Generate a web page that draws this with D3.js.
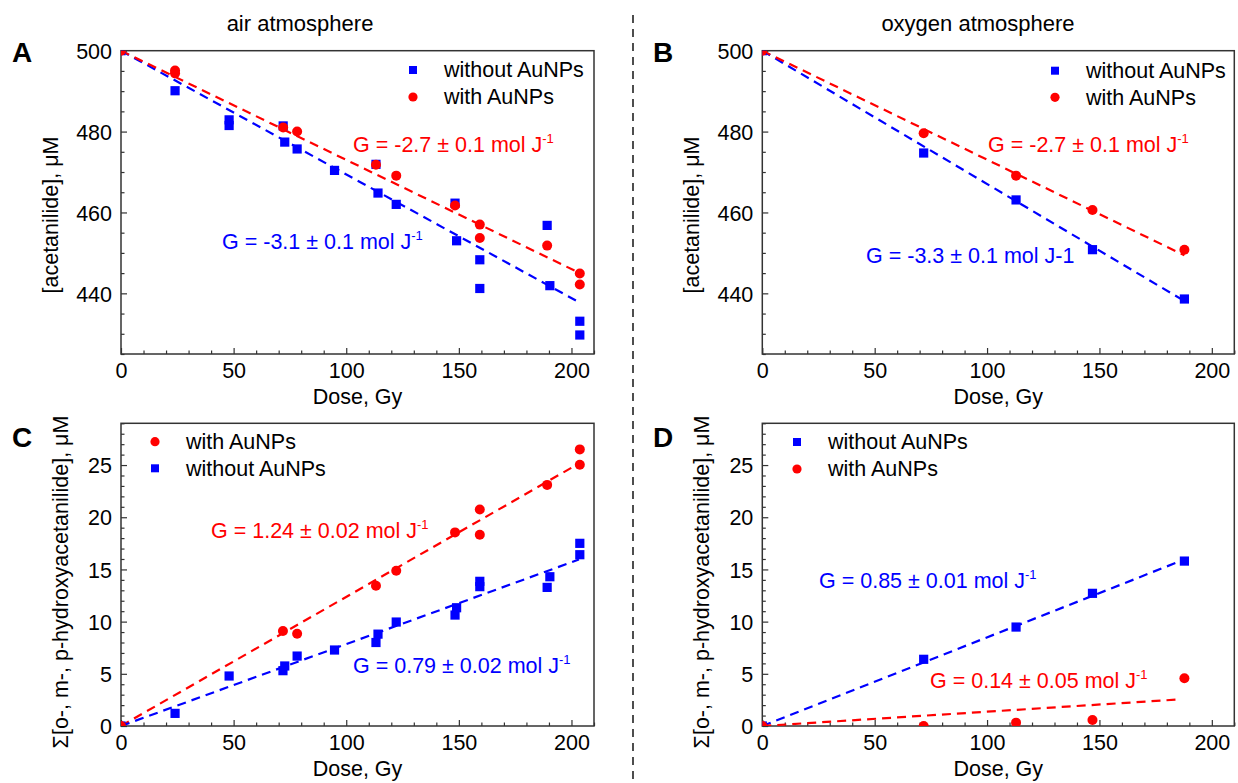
<!DOCTYPE html>
<html><head><meta charset="utf-8">
<script src="https://cdn.jsdelivr.net/npm/d3@7"></script>
<style>
body{margin:0;background:#fff;}
svg text{font-family:"Liberation Sans",Arial,sans-serif;}
</style></head>
<body><svg id="c" width="1238" height="783"></svg>
<script>
// ---------- data ----------
const xTicks = [0, 50, 100, 150, 200];
const yTicksTop = [440, 460, 480, 500];
const yTicksBottom = [0, 5, 10, 15, 20, 25];

// Panel A (air) [acetanilide]
const A_without = [[0,500],[24,490.1],[48,482.9],[48,481.5],[72,481.4],[72.7,477.4],[78.2,475.7],[94.8,470.4],[113.2,471.9],[114.1,464.8],[122.2,462],[148.3,462.3],[149,453],[159.3,448.3],[159.3,441.2],[189.2,456.8],[190.4,441.9],[203.7,433.1],[203.7,429.7]];
const A_with = [[0,500],[24,495.1],[24,494.4],[72,481],[78.2,480],[113.2,471.8],[122.2,469.1],[148.3,461.7],[159.3,457],[159.3,453.7],[189.2,451.8],[203.7,444.9],[203.7,442.2]];
const A_fit_without = [[0,500],[203,437.9]];
const A_fit_with = [[0,500],[203.7,445]];

// Panel B (oxygen) [acetanilide]
const B_without = [[0,500],[71.8,474.7],[112.9,463.1],[146.9,450.8],[187.8,438.6]];
const B_with = [[0,500],[71.8,479.6],[112.9,469.1],[146.9,460.6],[187.8,450.8]];
const B_fit_without = [[0,500],[187.8,438.1]];
const B_fit_with = [[0,500],[187.8,449.4]];

// Panel C (air) hydroxyacetanilides
const C_with = [[0,0],[71.9,9.1],[78.2,8.84],[113.2,13.44],[122.2,14.88],[148.3,18.55],[159.3,20.75],[159.3,18.33],[189.2,23.1],[203.7,26.5],[203.7,25.03]];
const C_without = [[0,0],[24,1.21],[48,4.79],[71.9,5.3],[72.7,5.75],[78.2,6.7],[94.8,7.28],[113.2,8.0],[114.1,8.8],[122.2,9.96],[148.3,10.63],[149,11.33],[159.3,13.35],[159.3,13.86],[189.2,13.28],[190.4,14.3],[203.7,16.41],[203.7,17.5]];
const C_fit_with = [[0,0],[203.7,25.2]];
const C_fit_without = [[0,0],[203.3,15.95]];

// Panel D (oxygen) hydroxyacetanilides
const D_without = [[0,0],[71.8,6.39],[112.9,9.48],[146.9,12.71],[187.8,15.8]];
const D_with = [[0,0],[71.8,0.0],[112.9,0.32],[146.9,0.57],[187.8,4.57]];
const D_fit_without = [[0,0],[187.8,15.95]];
const D_fit_with = [[0,0],[186,2.55]];

// ---------- drawing ----------
const BLUE = "#0000ff", RED = "#ff0000", AXIS = "#333";
const FS = 21.5;
const svg = d3.select("#c");

const panels = [
  {id:"A", L:121, R:594, T:50.7, B:354, ydom:[425,500], yt:yTicksTop, ymin:5,
   ylab:"[acetanilide], μM", ylx:50, yly:215, letter:[12,62],
   series:[{d:A_fit_without,c:BLUE,type:"fit"},{d:A_fit_with,c:RED,type:"fit"},
           {d:A_without,c:BLUE,type:"sq"},{d:A_with,c:RED,type:"ci"}],
   legend:[{c:BLUE,type:"sq",t:"without AuNPs",x:413,y:70},{c:RED,type:"ci",t:"with AuNPs",x:413,y:97}],
   ann:[{t:"G = -2.7 ± 0.1 mol J",sup:"-1",c:RED,x:353,y:152},{t:"G = -3.1 ± 0.1 mol J",sup:"-1",c:BLUE,x:222,y:249}]},
  {id:"B", L:762.3, R:1234.3, T:50.7, B:354, ydom:[425,500], yt:yTicksTop, ymin:5,
   ylab:"[acetanilide], μM", ylx:691, yly:215, letter:[653,62],
   series:[{d:B_fit_without,c:BLUE,type:"fit"},{d:B_fit_with,c:RED,type:"fit"},
           {d:B_without,c:BLUE,type:"sq"},{d:B_with,c:RED,type:"ci"}],
   legend:[{c:BLUE,type:"sq",t:"without AuNPs",x:1055,y:70.7},{c:RED,type:"ci",t:"with AuNPs",x:1055,y:97.3}],
   ann:[{t:"G = -2.7 ± 0.1 mol J",sup:"-1",c:RED,x:988,y:152},{t:"G = -3.3 ± 0.1 mol J-1",sup:"",c:BLUE,x:866,y:263}]},
  {id:"C", L:121, R:594, T:423.3, B:726, ydom:[0,29], yt:yTicksBottom, ymin:1,
   ylab:"Σ[o-, m-, p-hydroxyacetanilide], μM", ylx:60, yly:582, letter:[12,447],
   series:[{d:C_fit_with,c:RED,type:"fit"},{d:C_fit_without,c:BLUE,type:"fit"},
           {d:C_without,c:BLUE,type:"sq"},{d:C_with,c:RED,type:"ci"}],
   legend:[{c:RED,type:"ci",t:"with AuNPs",x:155,y:441.7},{c:BLUE,type:"sq",t:"without AuNPs",x:155,y:468.3}],
   ann:[{t:"G = 1.24 ± 0.02 mol J",sup:"-1",c:RED,x:211,y:538},{t:"G = 0.79 ± 0.02 mol J",sup:"-1",c:BLUE,x:353,y:673}]},
  {id:"D", L:762.3, R:1234.3, T:423.3, B:726, ydom:[0,29], yt:yTicksBottom, ymin:1,
   ylab:"Σ[o-, m-, p-hydroxyacetanilide], μM", ylx:701, yly:582, letter:[653,447],
   series:[{d:D_fit_without,c:BLUE,type:"fit"},{d:D_fit_with,c:RED,type:"fit"},
           {d:D_without,c:BLUE,type:"sq"},{d:D_with,c:RED,type:"ci"}],
   legend:[{c:BLUE,type:"sq",t:"without AuNPs",x:797,y:442},{c:RED,type:"ci",t:"with AuNPs",x:797,y:469}],
   ann:[{t:"G = 0.85 ± 0.01 mol J",sup:"-1",c:BLUE,x:819,y:588},{t:"G = 0.14 ± 0.05 mol J",sup:"-1",c:RED,x:930,y:688}]}
];

function marker(g, type, color, x, y){
  if(type==="sq"){
    g.append("rect").attr("x",x-4.6).attr("y",y-4.6).attr("width",9.2).attr("height",9.2).attr("fill",color);
  } else {
    g.append("circle").attr("cx",x).attr("cy",y).attr("r",5).attr("fill",color);
  }
}

panels.forEach((p,i)=>{
  const x = d3.scaleLinear().domain([0,210]).range([p.L,p.R]);
  const y = d3.scaleLinear().domain(p.ydom).range([p.B,p.T]);
  const g = svg.append("g");
  const clipId = "clip"+p.id;
  svg.append("clipPath").attr("id",clipId).append("rect")
    .attr("x",p.L).attr("y",p.T).attr("width",p.R-p.L).attr("height",p.B-p.T);

  // minor ticks
  const xMinor = d3.range(0,211,10).filter(v=>v%50!==0);
  const yMinor = d3.range(p.ydom[0], p.ydom[1]+0.001, p.ymin).filter(v=>!p.yt.includes(v));
  g.append("g").attr("transform",`translate(0,${p.B})`)
    .call(d3.axisBottom(x).tickValues(xMinor).tickSize(-3.5).tickFormat(""))
    .call(s=>s.select(".domain").remove()).selectAll("line").attr("stroke",AXIS).attr("stroke-width",1.2);
  g.append("g").attr("transform",`translate(${p.L},0)`)
    .call(d3.axisLeft(y).tickValues(yMinor).tickSize(-3.5).tickFormat(""))
    .call(s=>s.select(".domain").remove()).selectAll("line").attr("stroke",AXIS).attr("stroke-width",1.2);
  // major ticks + labels
  const xa = g.append("g").attr("transform",`translate(0,${p.B})`)
    .call(d3.axisBottom(x).tickValues(xTicks).tickSize(-6).tickPadding(9).tickFormat(d3.format("d")));
  xa.select(".domain").remove();
  xa.selectAll("line").attr("stroke",AXIS).attr("stroke-width",1.2);
  xa.selectAll("text").attr("font-size",FS).attr("fill","#000")
    .style("font-family","'Liberation Sans',Arial,sans-serif");
  const ya = g.append("g").attr("transform",`translate(${p.L},0)`)
    .call(d3.axisLeft(y).tickValues(p.yt).tickSize(-6).tickPadding(9).tickFormat(d3.format("d")));
  ya.select(".domain").remove();
  ya.selectAll("line").attr("stroke",AXIS).attr("stroke-width",1.2);
  ya.selectAll("text").attr("font-size",FS).attr("fill","#000").attr("dy","0.36em")
    .style("font-family","'Liberation Sans',Arial,sans-serif");

  // frame
  g.append("rect").attr("x",p.L).attr("y",p.T).attr("width",p.R-p.L).attr("height",p.B-p.T)
    .attr("fill","none").attr("stroke",AXIS).attr("stroke-width",1.5);

  // series
  const plot = g.append("g").attr("clip-path",`url(#${clipId})`);
  const line = d3.line().x(d=>x(d[0])).y(d=>y(d[1]));
  p.series.forEach(s=>{
    if(s.type==="fit"){
      plot.append("path").attr("d",line(s.d)).attr("fill","none").attr("stroke",s.c)
        .attr("stroke-width",2.2).attr("stroke-dasharray","9,6");
    }
  });
  p.series.forEach(s=>{
    if(s.type!=="fit"){
      s.d.forEach(d=>marker(plot,s.type,s.c,x(d[0]),y(d[1])));
    }
  });

  // legend
  p.legend.forEach(l=>{
    if(l.type==="sq") g.append("rect").attr("x",l.x-4).attr("y",l.y-4).attr("width",8).attr("height",8).attr("fill",l.c);
    else g.append("circle").attr("cx",l.x).attr("cy",l.y).attr("r",4.6).attr("fill",l.c);
    g.append("text").attr("x",l.x+31).attr("y",l.y+7.3).attr("font-size",FS).attr("fill","#000").text(l.t);
  });

  // annotations
  p.ann.forEach(a=>{
    const t = g.append("text").attr("x",a.x).attr("y",a.y).attr("font-size",FS).attr("fill",a.c);
    t.append("tspan").text(a.t);
    if(a.sup) t.append("tspan").attr("font-size",13).attr("dy",-9).text(a.sup);
  });

  // y label
  g.append("text").attr("transform",`translate(${p.ylx},${p.yly}) rotate(-90)`)
    .attr("text-anchor","middle").attr("dy","0.35em").attr("font-size",FS).attr("fill","#000").text(p.ylab);
  // x label
  g.append("text").attr("x",(p.L+p.R)/2).attr("y",p.B+50).attr("text-anchor","middle")
    .attr("font-size",FS).attr("fill","#000").text("Dose, Gy");
  // letter
  g.append("text").attr("x",p.letter[0]).attr("y",p.letter[1]).attr("font-size",28)
    .attr("font-weight","bold").attr("fill","#000").text(p.id);
});

// titles
svg.append("text").attr("x",300).attr("y",31).attr("text-anchor","middle").attr("font-size",22).text("air atmosphere");
svg.append("text").attr("x",978).attr("y",31).attr("text-anchor","middle").attr("font-size",22).text("oxygen atmosphere");
// divider
svg.append("line").attr("x1",633).attr("x2",633).attr("y1",15).attr("y2",783)
  .attr("stroke","#222").attr("stroke-width",1.6).attr("stroke-dasharray","8,6");
</script></body></html>
